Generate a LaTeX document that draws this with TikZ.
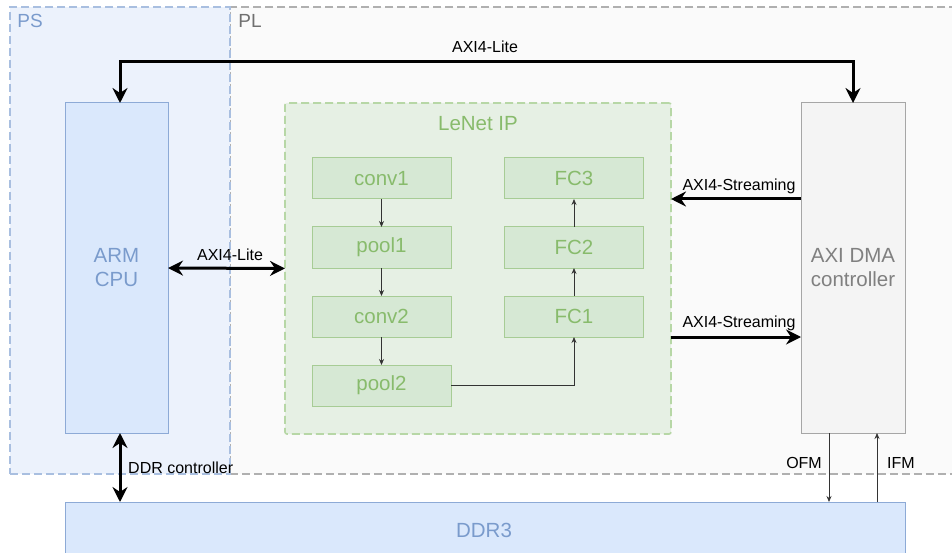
\documentclass[tikz,border=0pt]{standalone}
\usepackage{fontspec}
\setmainfont{Liberation Sans}
\usetikzlibrary{arrows.meta}
\definecolor{psfill}{HTML}{ECF2FC}
\definecolor{psdraw}{HTML}{A9BFE0}
\definecolor{psText}{HTML}{7A9BCC}
\definecolor{plfill}{HTML}{FAFAFA}
\definecolor{pldraw}{HTML}{B0B0B0}
\definecolor{plText}{HTML}{707070}
\definecolor{blfill}{HTML}{DAE8FC}
\definecolor{bldraw}{HTML}{8DAAD6}
\definecolor{dmafill}{HTML}{F4F4F4}
\definecolor{dmadraw}{HTML}{A6A6A6}
\definecolor{dmaText}{HTML}{808080}
\definecolor{lnfill}{HTML}{E6F0E4}
\definecolor{lndraw}{HTML}{B7D7A6}
\definecolor{gbfill}{HTML}{D6E8D4}
\definecolor{gbdraw}{HTML}{A7CC95}
\definecolor{gText}{HTML}{88BB6C}
\tikzset{
  region/.style={draw, line width=1.6pt, dash pattern=on 8pt off 4pt, outer sep=0pt, inner sep=0pt},
  bigfont/.style={font=\fontsize{20.5}{24}\selectfont},
  lblfont/.style={font=\fontsize{16}{19}\selectfont},
  layer/.style={draw=gbdraw, fill=gbfill, line width=1pt, minimum width=139pt, minimum height=41pt, outer sep=0pt, inner sep=0pt, text=gText, bigfont},
  thin/.style={draw=black!80, line width=0.8pt, -{Stealth[length=6pt,width=5pt]}},
  bigone/.style={line width=3pt, -{Stealth[length=15pt,width=15pt,inset=5pt]}},
  bigtwo/.style={line width=3pt, {Stealth[length=15pt,width=15pt,inset=5pt]}-{Stealth[length=15pt,width=15pt,inset=5pt]}},
  lbl/.style={lblfont, text=black, inner sep=0pt}
}
\begin{document}
\begin{tikzpicture}[x=1pt,y=-1pt]
\useasboundingbox (0,0) rectangle (952,553);
% regions
\node[region, fill=plfill, draw=pldraw, minimum width=730pt, minimum height=467pt] (pl) at (595,240.5) {};
\node[region, fill=psfill, draw=psdraw, minimum width=220pt, minimum height=467pt] (ps) at (120,240.5) {};
\node[text=psText, font=\fontsize{19}{22}\selectfont, inner sep=0pt] (pslbl) at (30,21) {PS};
\node[text=plText, font=\fontsize{19}{22}\selectfont, inner sep=0pt] (pllbl) at (250,21) {PL};
% main blocks
\node[draw=bldraw, fill=blfill, line width=1pt, minimum width=103pt, minimum height=330pt, outer sep=0pt, text=psText, bigfont, align=center] (arm) at (116.5,268) {ARM\\CPU};
\node[draw=dmadraw, fill=dmafill, line width=1pt, minimum width=104pt, minimum height=330pt, outer sep=0pt, text=dmaText, bigfont, align=center] (dma) at (853,268) {AXI DMA\\controller};
\node[region, fill=lnfill, draw=lndraw, minimum width=386pt, minimum height=331pt, rounded corners=2pt] (lenet) at (478,268.5) {};
\node[text=gText, bigfont, inner sep=0pt] (lenetlbl) at (478,124) {LeNet IP};
\node[draw=bldraw, fill=blfill, line width=1pt, minimum width=840pt, minimum height=70pt, outer sep=0pt, anchor=north west] (ddr) at (65,502) {};
\node[text=psText, bigfont, inner sep=0pt] (ddrlbl) at (484,530) {DDR3};
% layers
\node[layer] (conv1) at (381.5,178.5) {conv1};
\node[layer] (pool1) at (381.5,247.5) {pool1};
\node[layer] (conv2) at (381.5,316.5) {conv2};
\node[layer] (pool2) at (381.5,385.5) {pool2};
\node[layer] (fc3) at (574,178.5) {FC3};
\node[layer] (fc2) at (574,247.5) {FC2};
\node[layer] (fc1) at (574,316.5) {FC1};
\draw[thin] (conv1) -- (pool1);
\draw[thin] (pool1) -- (conv2);
\draw[thin] (conv2) -- (pool2);
\draw[thin] (pool2.east) -| (fc1.south);
\draw[thin] (fc1) -- (fc2);
\draw[thin] (fc2) -- (fc3);
% big connectors
\draw[bigtwo] ([xshift=3.5pt]arm.north) -- ++(0,-41) -| (dma.north);
\node[lbl] (toplbl) at (485,47) {AXI4-Lite};
\draw[bigtwo] (arm.east) -- (lenet.west);
\node[lbl] (midlbl) at (230,255) {AXI4-Lite};
\draw[bigone] ([yshift=69pt]dma.west) -- ([yshift=69pt]dma.west -| lenet.east);
\node[lbl] (s1lbl) at (739,186) {AXI4-Streaming};
\draw[bigone] ([yshift=-69pt]dma.west -| lenet.east) -- ([yshift=-69pt]dma.west);
\node[lbl] (s2lbl) at (739,323) {AXI4-Streaming};
\draw[bigtwo] ([xshift=3.5pt]arm.south) -- ([xshift=3.5pt]arm.south |- ddr.north);
\node[lbl, anchor=west] (ddrclbl) at (128,468) {DDR controller};
\draw[thin] ([xshift=-24pt]dma.south) -- ([xshift=-24pt]dma.south |- ddr.north);
\draw[thin] ([xshift=24pt]dma.south |- ddr.north) -- ([xshift=24pt]dma.south);
\node[lbl, anchor=east] (ofmlbl) at (822,463) {OFM};
\node[lbl, anchor=west] (ifmlbl) at (887,463) {IFM};
\end{tikzpicture}
\end{document}
